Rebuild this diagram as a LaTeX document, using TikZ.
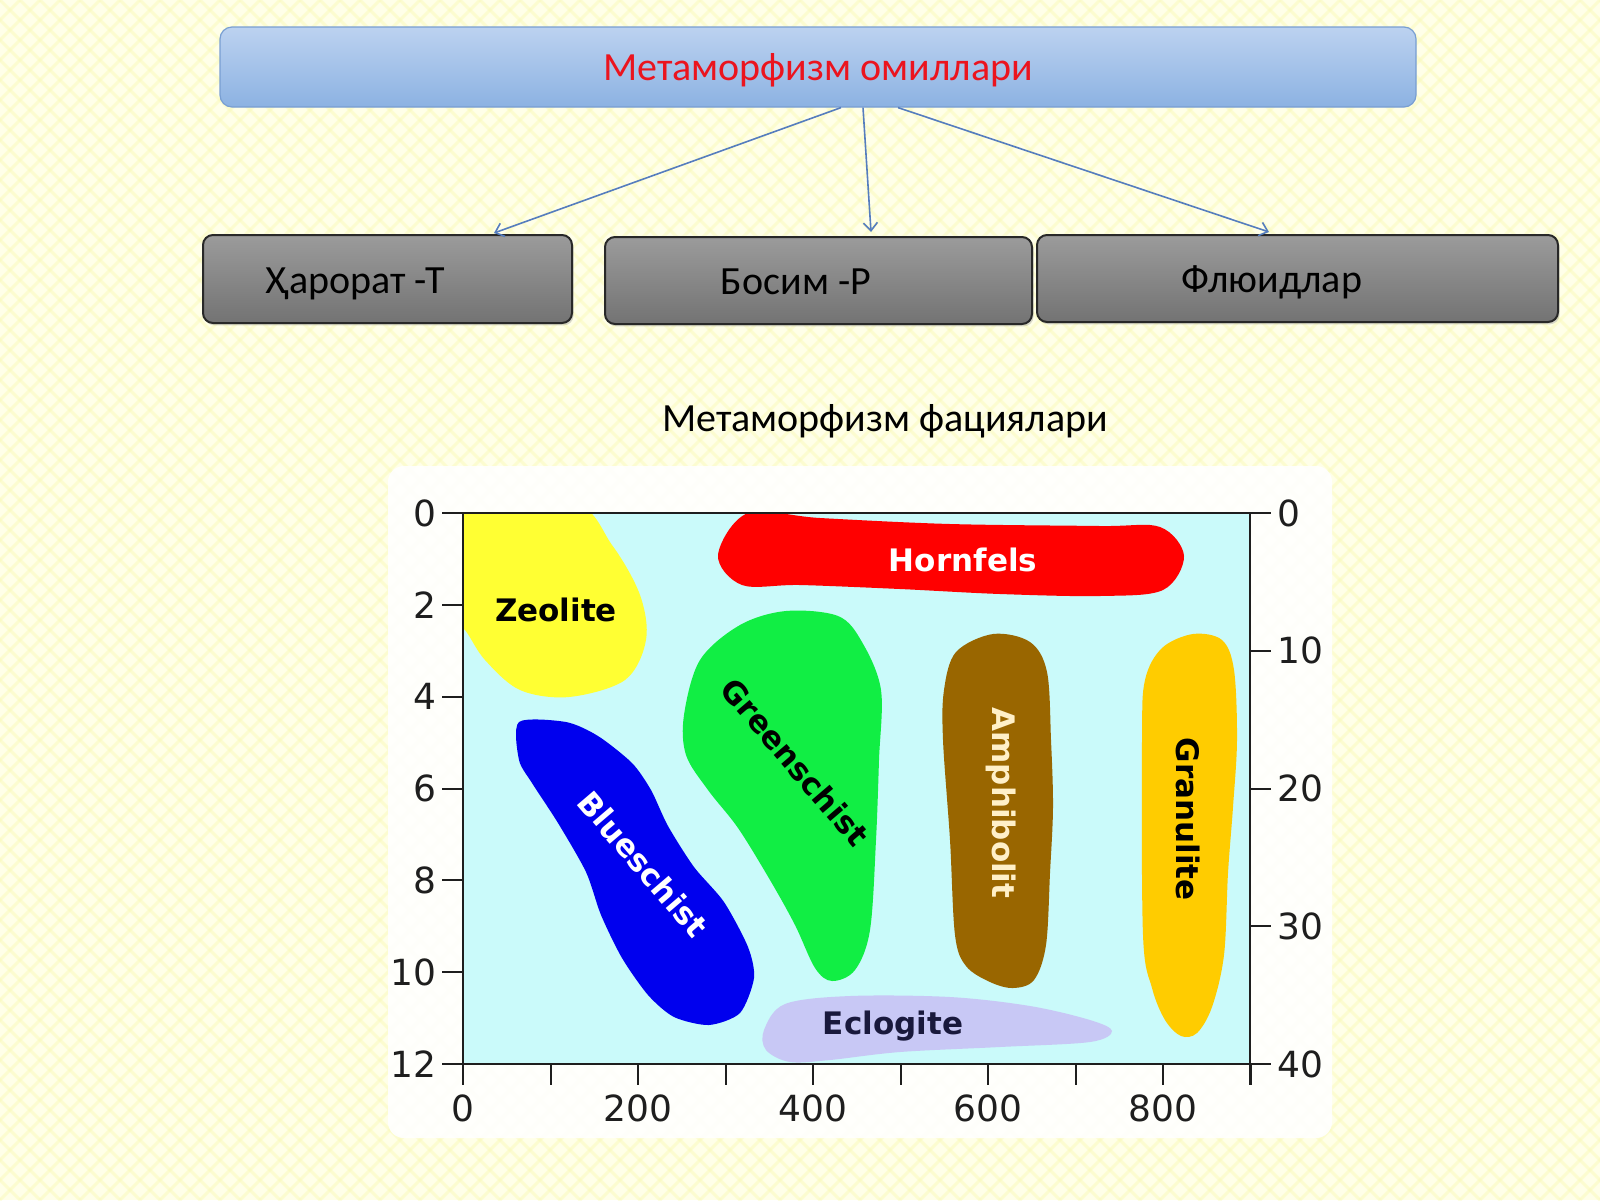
\documentclass[tikz,border=0pt]{standalone}
\usepackage{fontspec}
\setmainfont{Carlito}
\newfontfamily\dvs{DejaVu Sans}
\usetikzlibrary{arrows.meta,shadows}
\definecolor{bgY}{RGB}{255,255,232}
\definecolor{bgLine}{RGB}{250,250,185}
\definecolor{topA}{RGB}{188,210,240}
\definecolor{topB}{RGB}{140,178,226}
\definecolor{topEdge}{RGB}{120,158,210}
\definecolor{grayA}{RGB}{155,155,155}
\definecolor{grayB}{RGB}{115,115,115}
\definecolor{grayEdge}{RGB}{40,40,40}
\definecolor{linkblue}{RGB}{85,125,190}
\definecolor{titlered}{RGB}{235,20,30}
\definecolor{plotbg}{RGB}{202,250,250}
\definecolor{axisgray}{RGB}{30,30,30}
\definecolor{cZeo}{RGB}{255,255,51}
\definecolor{cHorn}{RGB}{255,0,0}
\definecolor{cGreen}{RGB}{17,238,68}
\definecolor{cBlue}{RGB}{0,0,238}
\definecolor{cAmph}{RGB}{153,102,0}
\definecolor{cGran}{RGB}{255,204,0}
\definecolor{cEclo}{RGB}{200,200,245}
\definecolor{cCream}{RGB}{255,240,200}
\definecolor{cNavy}{RGB}{25,25,60}
\begin{document}
\begin{tikzpicture}[x=0.5pt,y=-0.5pt,
  topbox/.style={draw=topEdge, line width=0.6pt, rounded corners=6pt,
    top color=topA, bottom color=topB, minimum width=598pt, minimum height=40pt, inner sep=0pt},
  graybox/.style={draw=grayEdge, line width=1pt, rounded corners=5pt,
    top color=grayA, bottom color=grayB, inner sep=0pt,
    drop shadow={shadow xshift=0.8pt, shadow yshift=-1.2pt, opacity=0.3}},
  boxfont/.style={font=\fontsize{20}{24}\selectfont},
  link/.style={draw=linkblue, line width=0.8pt, -{Straight Barb[length=4pt,width=7pt]}},
  axisline/.style={line width=1pt, draw=axisgray},
  ticklab/.style={font=\dvs\fontsize{18}{20}\selectfont, text=axisgray, inner sep=0pt},
  blobtext/.style={font=\dvs\bfseries\fontsize{15.5}{18}\selectfont, inner sep=0pt},
  blob/.style={smooth cycle, tension=0.55},
]
\useasboundingbox (0,0) rectangle (1600,1200);
% background
\fill[bgY] (0,0) rectangle (1600,1200);
\begin{scope}
  \clip (0,0) rectangle (1600,1200);
  \foreach \i in {-1200,-1180,...,1600} {
    \draw[bgLine, line width=1.5pt, opacity=0.5] (\i,0) -- ++(1200,1200);
    \draw[bgLine, line width=1.5pt, opacity=0.5] (\i+1200,0) -- ++(-1200,1200);
  }
\end{scope}

% top and factor boxes
\node[topbox] (top) at (818,67) {};
\node[boxfont, text=titlered, yshift=-1.5pt] (toptext) at (818,67) {Метаморфизм омиллари};

\node[graybox, minimum width=184.5pt, minimum height=44pt,
  label={[boxfont, xshift=-15.75pt, yshift=-2.5pt]center:Ҳарорат -Т}] (harorat) at (387.5,279) {};
\node[graybox, minimum width=213.5pt, minimum height=43.5pt,
  label={[boxfont, xshift=-11.25pt, yshift=-0.5pt]center:Босим -Р}] (bosim) at (818.5,280.5) {};
\node[graybox, minimum width=260.5pt, minimum height=43.5pt,
  label={[boxfont, xshift=-12.75pt, yshift=-2pt]center:Флюидлар}] (fluid) at (1297.5,278.5) {};

\draw[link] ([xshift=11.5pt]top.south) -- ([xshift=53.25pt,yshift=0.5pt]harorat.north);
\draw[link] ([xshift=22.5pt]top.south) -- ([xshift=26.25pt,yshift=2pt]bosim.north);
\draw[link] ([xshift=40pt]top.south) -- ([xshift=-14.25pt,yshift=1pt]fluid.north);

% facies title
\node[boxfont, yshift=-1.5pt] (facies) at (885,418) {Метаморфизм фациялари};

% chart background
\fill[white, opacity=0.9, rounded corners=8pt] (388,466) rectangle (1332,1138);
\fill[plotbg] (463,513) rectangle (1250,1064);

\begin{scope}
\clip (463,513) rectangle (1250,1064);
% Zeolite
\fill[cZeo] plot[blob] coordinates {(440,495) (570,500) (612,545) (640,595) (646,640) (625,680) (569,697) (520,690) (485,660) (465,630) (445,610)};
% Hornfels
\fill[cHorn] plot[blob] coordinates {(718,555) (748,513) (820,518) (950,524) (1100,526) (1160,527) (1184,556) (1163,590) (1100,596) (1000,594) (900,589) (800,585) (742,585)};
% Greenschist
\fill[cGreen] plot[blob] coordinates {(786,611) (838,616) (862,642) (881,690) (879,760) (876,840) (870,930) (855,970) (832,981) (815,968) (795,925) (770,880) (738,828) (708,790) (686,755) (684,715) (700,660) (740,625)};
% Blueschist
\fill[cBlue] plot[smooth cycle, tension=0.45] coordinates {(519,722) (566,722) (598,736) (632,763) (651,790) (668,826) (694,867) (724,902) (748,947) (754,978) (740,1013) (709,1025) (674,1017) (648,995) (622,958) (601,915) (586,872) (558,823) (532,783) (519,760)};
% Amphibolit
\fill[cAmph] plot[blob] coordinates {(993,634) (1030,642) (1047,672) (1051,740) (1053,807) (1050,873) (1046,945) (1034,980) (1013,988) (990,982) (966,966) (955,935) (950,840) (943,740) (944,690) (956,652)};
% Granulite
\fill[cGran] plot[blob] coordinates {(1193,634) (1222,640) (1234,670) (1237,740) (1233,807) (1228,873) (1224,955) (1212,1007) (1197,1033) (1181,1036) (1165,1020) (1152,988) (1143,935) (1142,740) (1145,680) (1162,648)};
% Eclogite
\fill[cEclo] plot[blob] coordinates {(764,1030) (785,1004) (850,996) (950,997) (1030,1006) (1090,1020) (1112,1031) (1090,1042) (1000,1047) (900,1052) (830,1060) (790,1062) (766,1050)};
\end{scope}

% blob labels
\node[blobtext, text=black] (zeolite) at (556,610) {Zeolite};
\node[blobtext, text=white] (hornfels) at (963,560) {Hornfels};
\node[blobtext, text=black, rotate=-49.5] (greenschist) at (795,762) {Greenschist};
\node[blobtext, text=white, rotate=-49.5] (blueschist) at (643,864) {Blueschist};
\node[blobtext, text=cCream, rotate=-90] (amphibolit) at (1001,803) {Amphibolit};
\node[blobtext, text=black, rotate=-90] (granulite) at (1188,819) {Granulite};
\node[blobtext, text=cNavy] (eclogite) at (893,1026) {Eclogite};

% axes
\draw[axisline] (442,513) -- (1271,513);
\draw[axisline] (442,1064) -- (1271,1064);
\draw[axisline] (463,513) -- (463,1085);
\draw[axisline] (1250,513) -- (1250,1085);
\foreach \k in {1,...,5} \draw[axisline] (442,513+91.833*\k) -- (463,513+91.833*\k);
\foreach \k in {1,...,9} \draw[axisline] (463+87.5*\k,1064) -- (463+87.5*\k,1085);
\foreach \k in {1,2,3} \draw[axisline] (1250,513+137.75*\k) -- (1271,513+137.75*\k);

\foreach \v [count=\k from 0] in {0,2,4,6,8,10,12}
  \node[ticklab, anchor=east] (yl\k) at (437,513+91.833*\k) {\v};
\foreach \v [count=\k from 0] in {0,10,20,30,40}
  \node[ticklab, anchor=west] (yr\k) at (1277,513+137.75*\k) {\v};
\foreach \v [count=\k from 0] in {0,200,400,600,800}
  \node[ticklab] (xl\k) at (463+175*\k,1108) {\v};
\end{tikzpicture}
\end{document}
